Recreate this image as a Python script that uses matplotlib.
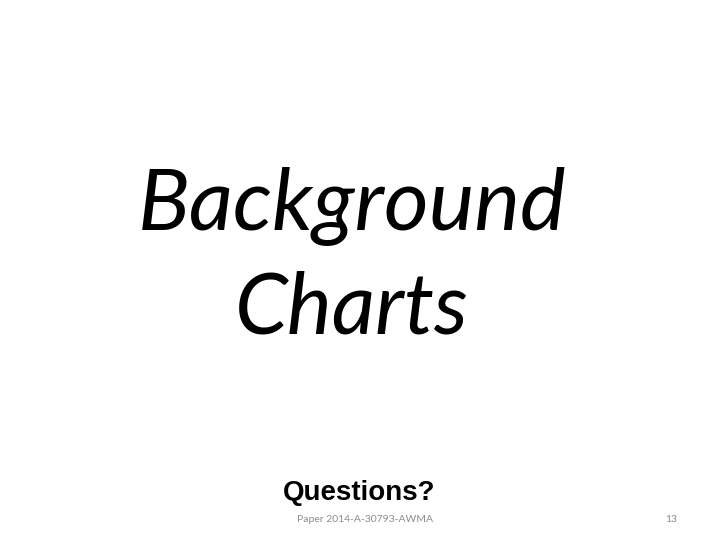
import matplotlib

matplotlib.use("Agg")
import matplotlib.pyplot as plt

title_lines = ["Background", "Charts"]
question_text = "Questions?"
footer_text = "Paper 2014-A-30793-AWMA"
page_number = "13"

fig = plt.figure(figsize=(7.2, 5.4), dpi=100)
fig.patch.set_facecolor("white")

# slide title, two lines, centred
fig.text(0.489, 1 - 230 / 540, title_lines[0], ha="center", va="baseline",
         fontsize=62, family="Lato", style="italic", color="black")
fig.text(0.489, 1 - 334 / 540, title_lines[1], ha="center", va="baseline",
         fontsize=61, family="Lato", style="italic", color="black")

fig.text(283 / 720, 1 - 500 / 540, question_text, ha="left", va="baseline",
         fontsize=20, family="Liberation Sans", weight="bold", color="black")

fig.text(297 / 720, 1 - 522 / 540, footer_text, ha="left", va="baseline",
         fontsize=7.5, family="Lato", color="#8c8c8c")
fig.text(677 / 720, 1 - 522 / 540, page_number, ha="right", va="baseline",
         fontsize=7.5, family="Lato", color="#8c8c8c")

fig.savefig("out.png", dpi=100, facecolor="white")
